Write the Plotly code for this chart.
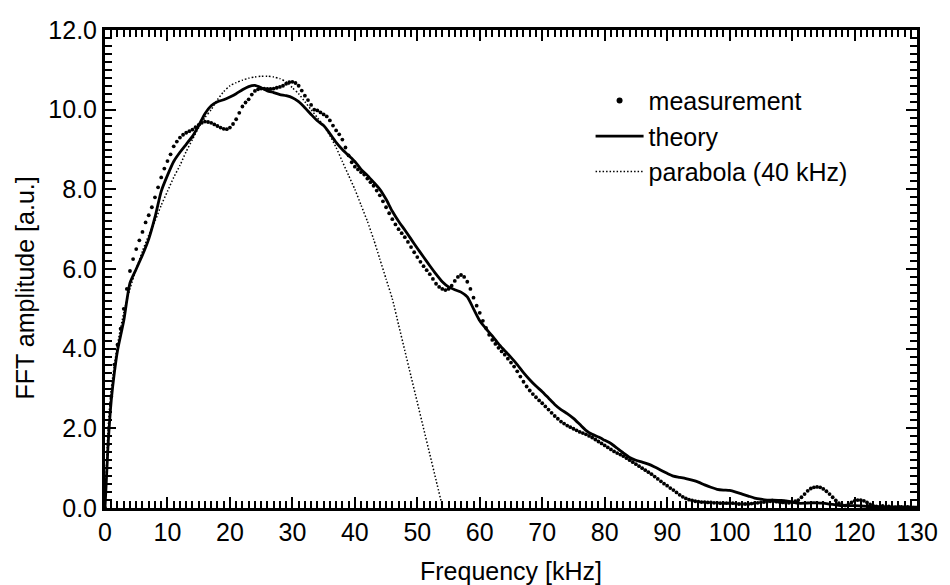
import numpy as np
import plotly.graph_objects as go

# ---------------- data ----------------
meas_freq = np.arange(0, 130.001, 0.5)
meas_amp = [
    0.0, 1.6, 2.8, 3.6, 4.1, 4.5, 5.0, 5.5, 5.95, 6.25,
    6.5, 6.72, 6.93, 7.17, 7.35, 7.55, 7.8, 8.05, 8.3, 8.52,
    8.71, 8.88, 9.08, 9.2, 9.3, 9.37, 9.42, 9.46, 9.5, 9.56,
    9.62, 9.67, 9.7, 9.69, 9.67, 9.63, 9.59, 9.55, 9.52, 9.51,
    9.55, 9.64, 9.76, 9.92, 10.08, 10.18, 10.26, 10.38, 10.47, 10.51,
    10.53, 10.53, 10.52, 10.52, 10.53, 10.55, 10.57, 10.6, 10.65, 10.69,
    10.7, 10.67, 10.6, 10.48, 10.35, 10.24, 10.12, 10.0, 9.98, 9.93,
    9.88, 9.83, 9.73, 9.6, 9.48, 9.38, 9.25, 9.05, 8.85, 8.68,
    8.57, 8.5, 8.43, 8.37, 8.27, 8.18, 8.09, 7.97, 7.85, 7.7,
    7.55, 7.4, 7.25, 7.12, 7.0, 6.9, 6.8, 6.68, 6.55, 6.42,
    6.3, 6.18, 6.07, 5.97, 5.87, 5.75, 5.63, 5.55, 5.5, 5.47,
    5.5, 5.58, 5.7, 5.8, 5.85, 5.8, 5.68, 5.5, 5.28, 5.08,
    4.9, 4.7, 4.52, 4.35, 4.22, 4.12, 4.02, 3.93, 3.85, 3.75,
    3.65, 3.55, 3.43, 3.3, 3.17, 3.05, 2.95, 2.86, 2.78, 2.7,
    2.63, 2.55, 2.47, 2.39, 2.31, 2.24, 2.17, 2.12, 2.07, 2.03,
    1.99, 1.95, 1.91, 1.88, 1.85, 1.81, 1.77, 1.72, 1.67, 1.62,
    1.57, 1.52, 1.47, 1.42, 1.38, 1.34, 1.3, 1.25, 1.2, 1.15,
    1.1, 1.05, 1.0, 0.95, 0.9, 0.85, 0.79, 0.73, 0.67, 0.61,
    0.56, 0.5, 0.45, 0.39, 0.33, 0.28, 0.24, 0.21, 0.19, 0.17,
    0.16, 0.15, 0.15, 0.14, 0.14, 0.13, 0.13, 0.12, 0.12, 0.12,
    0.12, 0.12, 0.11, 0.1, 0.1, 0.1, 0.1, 0.11, 0.12, 0.13,
    0.14, 0.15, 0.16, 0.17, 0.17, 0.16, 0.15, 0.14, 0.13, 0.13,
    0.14, 0.17, 0.2, 0.27, 0.35, 0.43, 0.49, 0.52, 0.53, 0.52,
    0.48, 0.42, 0.35, 0.27, 0.19, 0.12, 0.07, 0.06, 0.09, 0.14,
    0.18, 0.2, 0.2, 0.18, 0.14, 0.09, 0.05, 0.04, 0.03, 0.05,
    0.02, 0.04, 0.03, 0.02, 0.04, 0.03, 0.02, 0.03, 0.02, 0.01,
    0.0,
]

theory_freq = [0, 0.5, 1, 1.5] + list(range(2, 131))
theory_amp = [
    0.0, 1.6, 2.7, 3.4,
    3.95, 4.7, 5.65, 6.0, 6.35, 6.75, 7.3, 7.95,
    8.35, 8.7, 8.93, 9.13, 9.33, 9.6, 9.9, 10.1, 10.2, 10.25,
    10.32, 10.4, 10.5, 10.58, 10.61, 10.55, 10.47, 10.43, 10.38, 10.35,
    10.3, 10.2, 10.05, 9.88, 9.72, 9.6, 9.4, 9.18, 9.0, 8.85,
    8.7, 8.5, 8.35, 8.18, 8.0, 7.75, 7.45, 7.2, 6.98, 6.75,
    6.52, 6.3, 6.08, 5.87, 5.68, 5.55, 5.48, 5.42, 5.3, 5.0,
    4.7, 4.5, 4.32, 4.12, 3.95, 3.78, 3.6, 3.4, 3.22, 3.06,
    2.92, 2.76, 2.6, 2.47, 2.37, 2.25, 2.1, 1.95, 1.85, 1.78,
    1.7, 1.62, 1.5, 1.38, 1.27, 1.2, 1.15, 1.1, 1.03, 0.95,
    0.87, 0.8, 0.77, 0.74, 0.7, 0.65, 0.58, 0.52, 0.47, 0.45,
    0.44, 0.4, 0.35, 0.3, 0.25, 0.22, 0.2, 0.2, 0.19, 0.18,
    0.15, 0.12, 0.12, 0.13, 0.13, 0.12, 0.1, 0.08, 0.06, 0.06,
    0.06, 0.05, 0.04, 0.03, 0.03, 0.03, 0.02, 0.02, 0.02, 0.02, 0.02,
]

parab_freq = [0, 0.5, 1] + list(range(2, 55))
parab_amp = [
    0.0, 2.0, 3.0,
    4.1, 4.9, 5.5, 6.0, 6.45, 6.85, 7.2, 7.6,
    7.95, 8.3, 8.6, 8.95, 9.25, 9.55, 9.8, 10.0, 10.25, 10.45,
    10.6, 10.68, 10.74, 10.79, 10.82, 10.84, 10.84, 10.82, 10.78, 10.7,
    10.55, 10.4, 10.2, 10.0, 9.8, 9.6, 9.35, 9.05, 8.7, 8.35,
    8.0, 7.6, 7.2, 6.75, 6.25, 5.75, 5.25, 4.6, 3.95, 3.3,
    2.65, 2.0, 1.35, 0.7, 0.05,
]

x_ticks = list(range(0, 131, 10))
y_ticks = [0, 2, 4, 6, 8, 10, 12]
y_ticklabels = ["0.0", "2.0", "4.0", "6.0", "8.0", "10.0", "12.0"]

FONT = "Liberation Sans, Arial, Helvetica, sans-serif"
FS = 25

fig = go.Figure()
# measurement points (legend entry drawn by a marker-only legend trace below)
fig.add_trace(go.Scatter(
    x=meas_freq, y=meas_amp, mode="markers", name="measurement",
    showlegend=False,
    marker=dict(color="black", size=3.8, line=dict(width=0)),
))
fig.add_trace(go.Scatter(
    x=[None], y=[None], mode="markers", name="measurement",
    marker=dict(color="black", size=6, line=dict(width=0)),
))
fig.add_trace(go.Scatter(
    x=theory_freq, y=theory_amp, mode="lines", name="theory",
    line=dict(color="black", width=2.8, shape="spline", smoothing=0.6),
))
fig.add_trace(go.Scatter(
    x=parab_freq, y=parab_amp, mode="lines", name="parabola (40 kHz)",
    line=dict(color="black", width=1.5, dash="1.5px,2px", shape="spline", smoothing=0.6),
))

axis_common = dict(
    showline=True, linecolor="black", linewidth=3, mirror="ticks",
    ticks="inside", tickcolor="black", tickwidth=2, ticklen=11,
    showgrid=False, zeroline=False,
    tickfont=dict(family=FONT, size=FS, color="black"),
)

fig.update_xaxes(
    range=[0, 130], tickvals=x_ticks,
    minor=dict(ticks="inside", dtick=1, ticklen=7, tickwidth=1.6, tickcolor="black"),
    **axis_common,
)
fig.update_yaxes(
    range=[0, 12], tickvals=y_ticks, ticktext=y_ticklabels,
    minor=dict(ticks="inside", dtick=0.2, ticklen=7, tickwidth=1.6, tickcolor="black"),
    **axis_common,
)

fig.update_layout(
    width=950, height=585,
    margin=dict(l=105, r=25, t=30, b=77),
    paper_bgcolor="white", plot_bgcolor="white",
    font=dict(family=FONT, color="black", size=FS),
    showlegend=True,
    legend=dict(
        x=0.598, y=0.90, xanchor="left", yanchor="top",
        bgcolor="rgba(0,0,0,0)", borderwidth=0,
        itemwidth=48,
        font=dict(family=FONT, size=FS, color="black"),
    ),
    annotations=[
        dict(text="Frequency [kHz]", xref="paper", yref="paper",
             x=0.5, y=-0.131, xanchor="center", yanchor="middle",
             showarrow=False, font=dict(family=FONT, size=FS, color="black")),
        dict(text="FFT amplitude [a.u.]", xref="paper", yref="paper",
             x=-0.098, y=0.46, xanchor="center", yanchor="middle", textangle=-90,
             showarrow=False, font=dict(family=FONT, size=FS, color="black")),
    ],
)

fig.write_html("out.html")
